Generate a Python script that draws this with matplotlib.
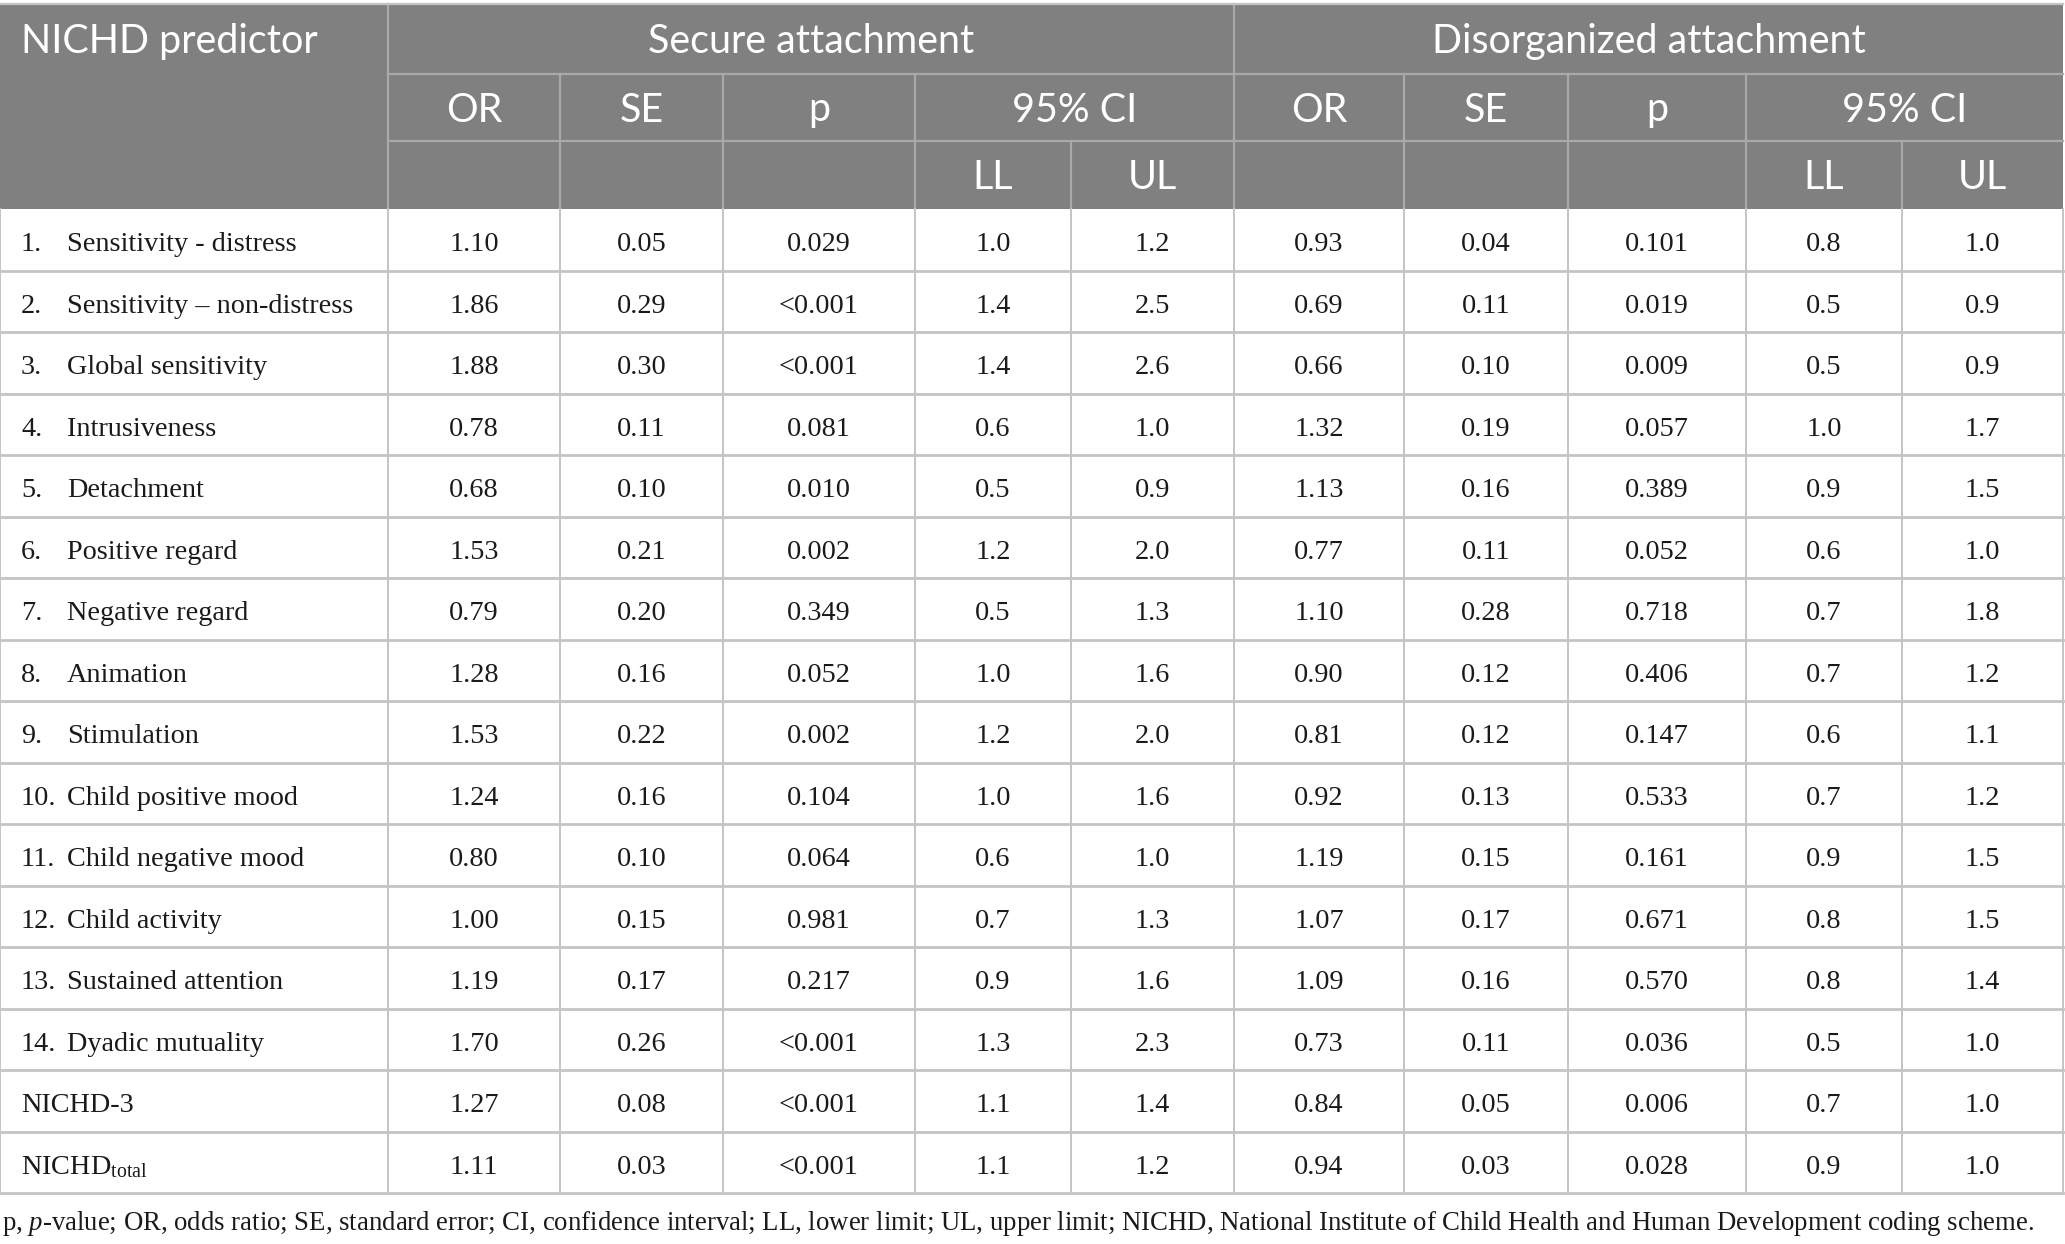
import matplotlib
matplotlib.use("Agg")
import matplotlib.pyplot as plt
from matplotlib.patches import Rectangle

plt.rcParams["mathtext.fontset"] = "custom"
plt.rcParams["mathtext.rm"] = "Liberation Serif"
plt.rcParams["mathtext.it"] = "Liberation Serif:italic"

# table content
row_nums = ["1.", "2.", "3.", "4.", "5.", "6.", "7.", "8.", "9.", "10.", "11.", "12.", "13.", "14.", "", ""]
row_labels = ["Sensitivity - distress", "Sensitivity \u2013 non-distress", "Global sensitivity",
              "Intrusiveness", "Detachment", "Positive regard", "Negative regard", "Animation",
              "Stimulation", "Child positive mood", "Child negative mood", "Child activity",
              "Sustained attention", "Dyadic mutuality", "NICHD-3", "NICHD$_{\\mathrm{total}}$"]

sec_or = ["1.10", "1.86", "1.88", "0.78", "0.68", "1.53", "0.79", "1.28", "1.53", "1.24", "0.80", "1.00", "1.19", "1.70", "1.27", "1.11"]
sec_se = ["0.05", "0.29", "0.30", "0.11", "0.10", "0.21", "0.20", "0.16", "0.22", "0.16", "0.10", "0.15", "0.17", "0.26", "0.08", "0.03"]
sec_p = ["0.029", "<0.001", "<0.001", "0.081", "0.010", "0.002", "0.349", "0.052", "0.002", "0.104", "0.064", "0.981", "0.217", "<0.001", "<0.001", "<0.001"]
sec_ll = ["1.0", "1.4", "1.4", "0.6", "0.5", "1.2", "0.5", "1.0", "1.2", "1.0", "0.6", "0.7", "0.9", "1.3", "1.1", "1.1"]
sec_ul = ["1.2", "2.5", "2.6", "1.0", "0.9", "2.0", "1.3", "1.6", "2.0", "1.6", "1.0", "1.3", "1.6", "2.3", "1.4", "1.2"]

dis_or = ["0.93", "0.69", "0.66", "1.32", "1.13", "0.77", "1.10", "0.90", "0.81", "0.92", "1.19", "1.07", "1.09", "0.73", "0.84", "0.94"]
dis_se = ["0.04", "0.11", "0.10", "0.19", "0.16", "0.11", "0.28", "0.12", "0.12", "0.13", "0.15", "0.17", "0.16", "0.11", "0.05", "0.03"]
dis_p = ["0.101", "0.019", "0.009", "0.057", "0.389", "0.052", "0.718", "0.406", "0.147", "0.533", "0.161", "0.671", "0.570", "0.036", "0.006", "0.028"]
dis_ll = ["0.8", "0.5", "0.5", "1.0", "0.9", "0.6", "0.7", "0.7", "0.6", "0.7", "0.9", "0.8", "0.8", "0.5", "0.7", "0.9"]
dis_ul = ["1.0", "0.9", "0.9", "1.7", "1.5", "1.0", "1.8", "1.2", "1.1", "1.2", "1.5", "1.5", "1.4", "1.0", "1.0", "1.0"]

groups = ["Secure attachment", "Disorganized attachment"]
sub_heads = ["OR", "SE", "p", "95% CI"]
ci_heads = ["LL", "UL"]
footnote = ("p, $\\it{p}$-value; OR, odds ratio; SE, standard error; CI, confidence interval; LL, lower limit; "
            "UL, upper limit; NICHD, National Institute of Child Health and Human Development coding scheme.")

value_cols = [sec_or, sec_se, sec_p, sec_ll, sec_ul, dis_or, dis_se, dis_p, dis_ll, dis_ul]

# layout in pixels
W, H = 2065, 1244
xs = [0, 388, 560, 723, 915, 1071, 1234, 1404, 1568, 1746, 1902, 2063]
hy = [4, 74, 141, 209]
row_h = 61.5
n = len(row_labels)
body_bottom = hy[3] + n * row_h

HEAD = "#808080"
HLINE = "#a9a9a9"
GRID = "#c4c4c4"
HFONT = "Lato"
BFONT = "Liberation Serif"
INK = "#1a1a1a"

fig = plt.figure(figsize=(W / 100, H / 100), dpi=100)
ax = fig.add_axes([0, 0, 1, 1])
ax.set_xlim(0, W)
ax.set_ylim(H, 0)
ax.axis("off")
renderer = fig.canvas.get_renderer()


def fit_size(sample, family, target_px, start=20):
    # font size that makes `sample` about target_px wide
    t = ax.text(0, 0, sample, fontsize=start, family=family)
    w = t.get_window_extent(renderer).width
    t.remove()
    return start * target_px / w


hs = fit_size("Secure attachment", HFONT, 328)
bs = fit_size("Sensitivity - distress", BFONT, 230)
fs = fit_size(footnote, BFONT, 2031)

ax.add_patch(Rectangle((xs[0], hy[0]), xs[-1] - xs[0], hy[3] - hy[0], color=HEAD, lw=0, zorder=0))

# header lines
hl = dict(color=HLINE, lw=1.6, zorder=2)
ax.plot([xs[1], xs[1]], [hy[0], hy[3]], **hl)
ax.plot([xs[6], xs[6]], [hy[0], hy[3]], **hl)
ax.plot([xs[1], xs[-1]], [hy[1], hy[1]], **hl)
ax.plot([xs[1], xs[-1]], [hy[2], hy[2]], **hl)
for g in (0, 5):
    for k in (2, 3, 4):
        ax.plot([xs[g + k], xs[g + k]], [hy[1], hy[3]], **hl)
    ax.plot([xs[g + 5], xs[g + 5]], [hy[2], hy[3]], **hl)
ax.plot([xs[0], xs[-1]], [hy[0], hy[0]], color=GRID, lw=1.6, zorder=2)

# header text
htxt = dict(color="white", fontsize=hs, family=HFONT, va="center_baseline")
dy = -1
ax.text(21, (hy[0] + hy[1]) / 2 + dy, "NICHD predictor", ha="left", **htxt)
for gi, g in enumerate((0, 5)):
    ax.text((xs[g + 1] + xs[g + 6]) / 2, (hy[0] + hy[1]) / 2 + dy, groups[gi], ha="center", **htxt)
    for k, lab in enumerate(sub_heads):
        if lab == "95% CI":
            cx = (xs[g + 4] + xs[g + 6]) / 2
        else:
            cx = (xs[g + 1 + k] + xs[g + 2 + k]) / 2
        ax.text(cx, (hy[1] + hy[2]) / 2 + dy, lab, ha="center", **htxt)
    for k, lab in enumerate(ci_heads):
        cx = (xs[g + 4 + k] + xs[g + 5 + k]) / 2
        ax.text(cx, (hy[2] + hy[3]) / 2 + dy, lab, ha="center", **htxt)

# body grid
for i in range(1, n + 1):
    y = hy[3] + i * row_h
    ax.plot([xs[0], xs[-1]], [y, y], color=GRID, lw=2.0, zorder=2)
for x in xs:
    ax.plot([x, x], [hy[3], body_bottom], color=GRID, lw=1.4, zorder=2)

# body text
btxt = dict(fontsize=bs, family=BFONT, va="center_baseline", color=INK)
for i in range(n):
    cy = hy[3] + (i + 0.5) * row_h + 2
    if row_nums[i]:
        ax.text(21, cy, row_nums[i], ha="left", **btxt)
        ax.text(67, cy, row_labels[i], ha="left", **btxt)
    else:
        ax.text(21, cy, row_labels[i], ha="left", **btxt)
    for j, col in enumerate(value_cols):
        cx = (xs[j + 1] + xs[j + 2]) / 2
        ax.text(cx, cy, col[i], ha="center", **btxt)

ax.text(2, 1224, footnote, fontsize=fs, family=BFONT, ha="left", va="center", color=INK)

fig.savefig("out.png", dpi=100)
